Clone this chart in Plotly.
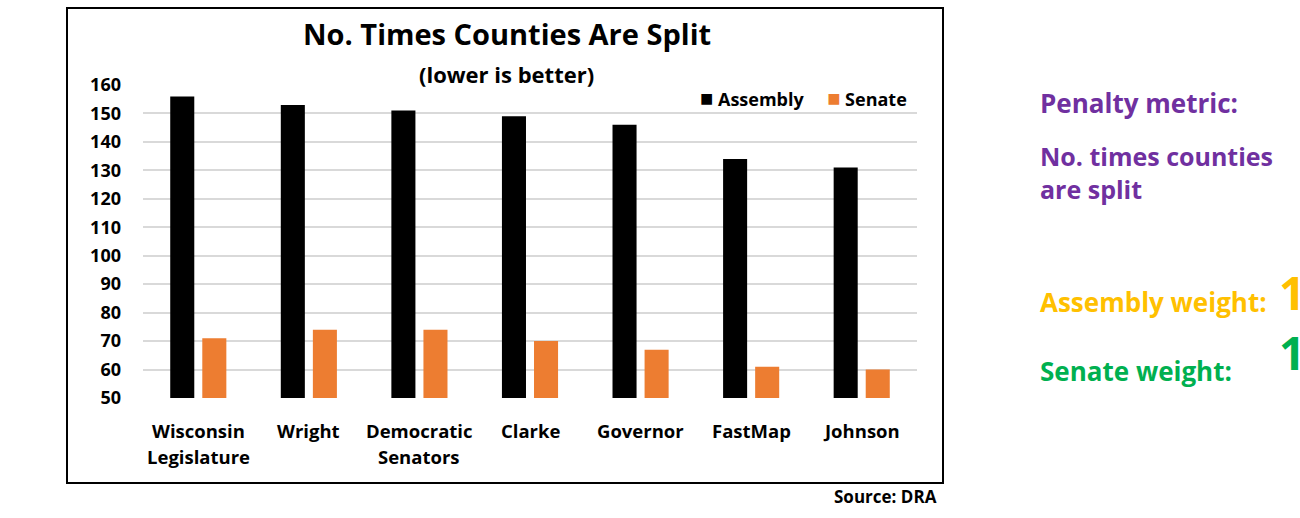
import plotly.graph_objects as go

plans = ["Wisconsin<br>Legislature", "Wright", "Democratic<br>Senators", "Clarke",
         "Governor", "FastMap", "Johnson"]
assembly = [156, 153, 151, 149, 146, 134, 131]
senate = [71, 74, 74, 70, 67, 61, 60]
y_ticks = [50, 60, 70, 80, 90, 100, 110, 120, 130, 140, 150, 160]
series_colors = {"Assembly": "#000000", "Senate": "#ED7D31"}

FONT = "Open Sans"
W, H = 1300, 518
# plot area in pixels
PL, PR, PT, PB = 143, 917, 85, 398
PW, PH = PR - PL, PB - PT


def px(x):
    return (x - PL) / PW


def py(y):
    return (PB - y) / PH


fig = go.Figure()
fig.add_bar(x=plans, y=assembly, name="Assembly",
            marker_color=series_colors["Assembly"], marker_line_width=0)
fig.add_bar(x=plans, y=senate, name="Senate",
            marker_color=series_colors["Senate"], marker_line_width=0)


def txt(text, x, y, size, color, xanchor="center", xref="paper", yref="paper",
        align="center"):
    return dict(text=text, x=x, y=y, xref=xref, yref=yref, showarrow=False,
                xanchor=xanchor, yanchor="middle", align=align,
                font=dict(family=FONT, size=size, color=color))


# legend drawn as compact text with coloured squares
legend_text = "&nbsp;&nbsp;&nbsp;&nbsp;&nbsp;".join(
    f"<span style='color:{c};font-size:22px'>■</span>&nbsp;<b>{name}</b>"
    for name, c in series_colors.items()
)

annotations = [
    txt("<b>No. Times Counties Are Split</b>", px(507), py(33), 29, "#000000"),
    txt("<b>(lower is better)</b>", px(506), py(74), 22, "#000000"),
    txt(legend_text, px(909), py(97), 18, "#000000", xanchor="right"),
    txt("<b>Source: DRA</b>", px(939), py(496), 17, "#000000", xanchor="right"),
    txt("<b>Penalty metric:</b>", px(1038), py(103), 26, "#7030A0", xanchor="left"),
    txt("<b>No. times counties<br>are split</b>", px(1038), py(172), 25, "#7030A0",
        xanchor="left", align="left"),
    txt("<b>Assembly weight:</b>", px(1038), py(302), 26, "#FFC000", xanchor="left"),
    txt("<b>1</b>", px(1277), py(292), 46, "#FFC000", xanchor="left"),
    txt("<b>Senate weight:</b>", px(1038), py(371), 26, "#00B050", xanchor="left"),
    txt("<b>1</b>", px(1277), py(352), 46, "#00B050", xanchor="left"),
]

# category labels, one annotation per line so the line spacing can be set
for plan in plans:
    for i, line in enumerate(plan.split("<br>")):
        annotations.append(txt(f"<b>{line}</b>", plan, py(430 + 27 * i), 18.5,
                               "#000000", xref="x", yref="paper"))

fig.update_layout(
    width=W, height=H,
    margin=dict(l=PL, r=W - PR, t=PT, b=H - PB, pad=0),
    paper_bgcolor="#FFFFFF", plot_bgcolor="#FFFFFF",
    barmode="group", bargap=0.42, bargroupgap=0.25,
    font=dict(family=FONT, color="#000000"),
    showlegend=False,
    annotations=annotations,
    shapes=[dict(type="rect", xref="paper", yref="paper",
                 x0=px(67), x1=px(943), y0=py(483), y1=py(8),
                 line=dict(color="#000000", width=2), fillcolor="rgba(0,0,0,0)",
                 layer="above")],
)
fig.update_xaxes(showgrid=False, showline=False, ticks="", showticklabels=False)
fig.update_yaxes(range=[50, 160], tickvals=y_ticks, showgrid=True,
                 gridcolor="#D9D9D9", gridwidth=2, zeroline=False, showline=False,
                 ticks="", ticklabelstandoff=21,
                 tickfont=dict(family=FONT, size=18, color="#000000", weight="bold"))

fig.write_html("out.html")
